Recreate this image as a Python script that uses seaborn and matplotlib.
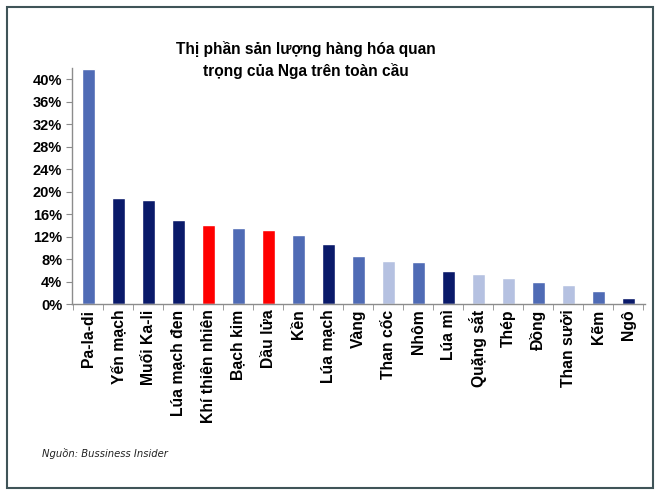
import numpy as np
import matplotlib
matplotlib.use("Agg")
import matplotlib.pyplot as plt
import matplotlib.patches as mpatches
from matplotlib.ticker import FuncFormatter, FixedLocator
import seaborn as sns
import pandas as pd

# data
commodities = ["Pa-la-di", "Yến mạch", "Muối Ka-li", "Lúa mạch đen", "Khí thiên nhiên",
               "Bạch kim", "Dầu lửa", "Kền", "Lúa mạch", "Vàng", "Than cốc", "Nhôm",
               "Lúa mì", "Quặng sắt", "Thép", "Đồng", "Than sưởi", "Kẽm", "Ngô"]
share = [41.8, 18.8, 18.5, 14.9, 14.0, 13.5, 13.2, 12.3, 10.7, 8.5, 7.6, 7.5,
         5.8, 5.3, 4.6, 3.9, 3.4, 2.3, 1.0]
group = ["mid", "navy", "navy", "navy", "red", "mid", "red", "mid", "navy", "mid",
         "light", "mid", "navy", "light", "light", "mid", "light", "mid", "navy"]

group_colors = {"mid": "#4F6BB5", "navy": "#0A1A6A", "red": "#FF0000", "light": "#B5C1E1"}

df = pd.DataFrame({"commodity": commodities, "share": share})
palette = {c: group_colors[g] for c, g in zip(commodities, group)}

sns.set_style("white")
plt.rcParams["font.family"] = ["Liberation Sans", "DejaVu Sans"]
plt.rcParams["text.color"] = "black"
plt.rcParams["xtick.color"] = "black"
plt.rcParams["ytick.color"] = "black"

fig = plt.figure(figsize=(6.6, 4.96), dpi=100)
ax = fig.add_axes([0.109, 0.387, 0.868, 0.476])

sns.barplot(data=df, x="commodity", y="share", hue="commodity", palette=palette,
            width=0.43, legend=False, saturation=1, ax=ax)

ax.set_ylim(0, 42)
ax.set_xlim(-0.55, len(commodities) - 0.45)
ax.set_yticks(np.arange(0, 41, 4))
ax.yaxis.set_major_formatter(FuncFormatter(lambda v, p: f"{v:.0f}%"))
ax.set_xlabel("")
ax.set_ylabel("")

for side in ["top", "right"]:
    ax.spines[side].set_visible(False)
for side in ["left", "bottom"]:
    ax.spines[side].set_color("#8C8C8C")
    ax.spines[side].set_linewidth(1)

ax.tick_params(axis="y", left=True, length=4, color="#8C8C8C", labelsize=10.5, pad=3)
ax.tick_params(axis="x", bottom=False, length=0, labelsize=11.3, pad=4)
ax.xaxis.set_minor_locator(FixedLocator(np.arange(-0.5, len(commodities), 1)))
ax.tick_params(axis="x", which="minor", bottom=True, length=4, color="#8C8C8C")
for lab in ax.get_yticklabels():
    lab.set_fontweight("bold")
for lab in ax.get_xticklabels():
    lab.set_rotation(90)
    lab.set_fontweight("bold")

fig.text(0.463, 0.84, "Thị phần sản lượng hàng hóa quan\ntrọng của Nga trên toàn cầu",
         ha="center", va="bottom", fontsize=11.2, fontweight="bold", linespacing=1.5)

fig.text(0.064, 0.085, "Nguồn: Bussiness Insider", ha="left", va="center",
         fontsize=7.2, style="italic", color="#222222", family=["DejaVu Sans"])

fig.patches.append(mpatches.Rectangle((0.011, 0.016), 0.978, 0.97, transform=fig.transFigure,
                                      fill=False, edgecolor="#3F5458", linewidth=1.5))

fig.savefig("out.png", dpi=100)
